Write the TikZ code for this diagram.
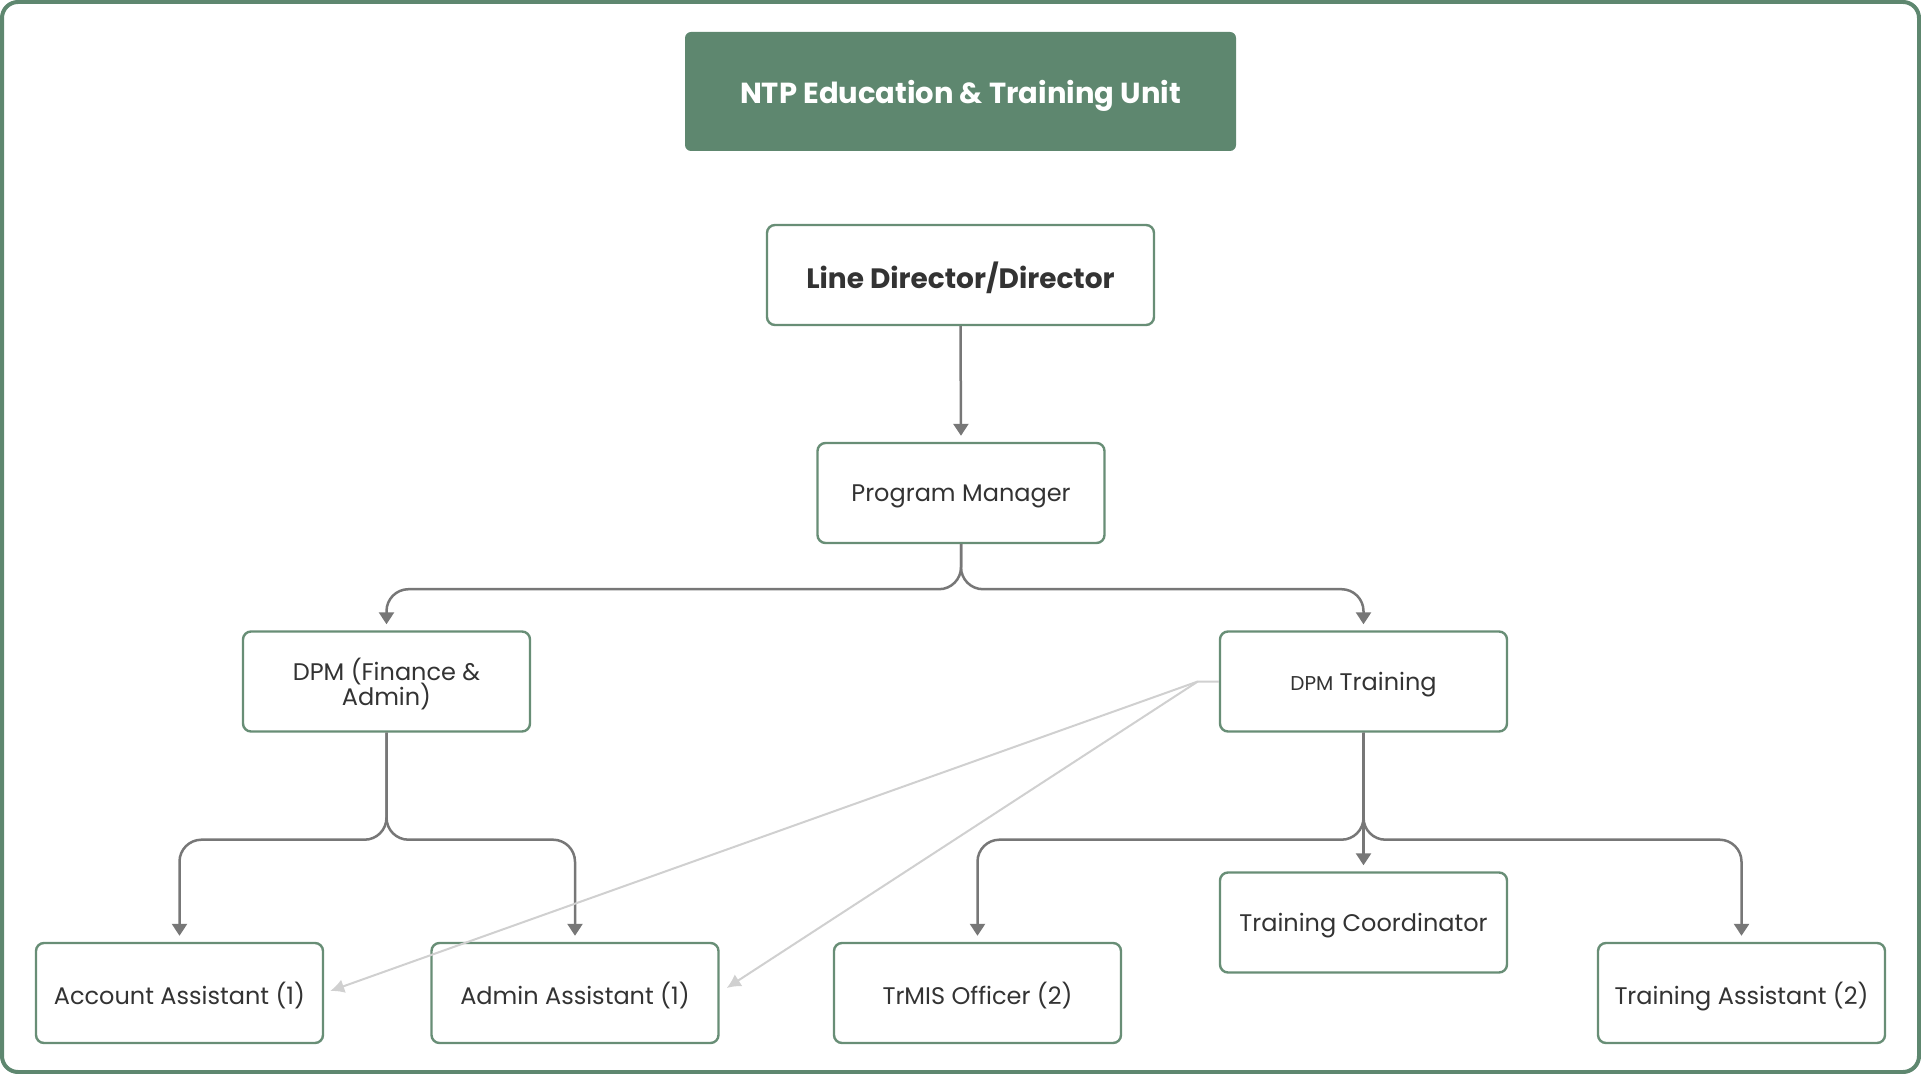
\documentclass[tikz,border=0pt]{standalone}
\usepackage{fontspec}
\setmainfont{Poppins}
\usetikzlibrary{arrows.meta, calc}

\definecolor{unitgreen}{RGB}{94,135,111}
\definecolor{boxgreen}{RGB}{104,142,118}
\definecolor{inkgray}{RGB}{51,51,51}
\definecolor{wiregray}{RGB}{119,119,119}
\definecolor{hintgray}{RGB}{208,208,208}

\begin{document}
\begin{tikzpicture}[
    x=0.5pt, y=-0.5pt,
    >={Triangle[width=7.5pt,length=6pt]},
    box/.style={draw=boxgreen, line width=1.2pt, rounded corners=4pt, fill=white, text=inkgray,
        minimum width=143.5pt, minimum height=50pt, inner sep=0pt, align=center, text depth=0pt,
        font=\fontsize{12}{11}\selectfont},
    head/.style={fill=unitgreen, rounded corners=3pt, text=white, minimum width=275.5pt,
        minimum height=59.5pt, text depth=0pt, font=\fontsize{14.5}{16}\selectfont\bfseries},
    topbox/.style={box, minimum width=193.5pt, font=\fontsize{14}{16}\selectfont\bfseries},
    link/.style={->, wiregray, line width=1.25pt, rounded corners=11pt, shorten >=3pt},
    hint/.style={-{Latex[width=7pt,length=7pt]}, hintgray, line width=1pt},
]

\useasboundingbox (0,0) rectangle (1921,1074);
\draw[unitgreen, line width=2pt, rounded corners=8pt] (2,2) rectangle (1919,1072);

% === HEADER ===
\node[head] (unit) at (960.5,91.5) {NTP Education \& Training Unit};

% === MANAGEMENT ===
\node[topbox] (ld) at (960.5,275) {Line Director/Director};
\node[box] (pm) at (961,493) {Program Manager};

\node[box] (dpmf) at (386.5,681.5) {DPM (Finance \&\\[-2pt]Admin)};
\node[box] (dpmt) at (1363.5,681.5) {{\fontsize{10}{10}\selectfont DPM} Training};

% === STAFF ===
\node[box] (tc) at (1363.5,922.5) {Training Coordinator};
\node[box] (acc) at (179.5,993) {Account Assistant (1)};
\node[box] (adm) at (575,993) {Admin Assistant (1)};
\node[box] (trmis) at (977.5,993) {TrMIS Officer (2)};
\node[box] (tra) at (1741.5,993) {Training Assistant (2)};

% Arrows down the chain
\draw[link] (ld.south) -- (pm.north);
\draw[link] (pm.south) -- ++(0,45) -| (dpmf.north);
\draw[link] (pm.south) -- ++(0,45) -| (dpmt.north);

\draw[link] (dpmf.south) -- ++(0,107) -| (acc.north);
\draw[link] (dpmf.south) -- ++(0,107) -| (adm.north);

\draw[link] (dpmt.south) -- ++(0,107) -| (trmis.north);
\draw[link] (dpmt.south) -- ++(0,107) -| (tra.north);
\draw[link] (dpmt.south) -- (tc.north);

% Light links from DPM Training
\coordinate (split) at ($(dpmt.west)+(-21,0)$);
\draw[hint] (dpmt.west) -- (split) -- ($(acc.east)+(6,-2)$);
\draw[hint] (split) -- ($(adm.east)+(7,-5)$);

\end{tikzpicture}
\end{document}
